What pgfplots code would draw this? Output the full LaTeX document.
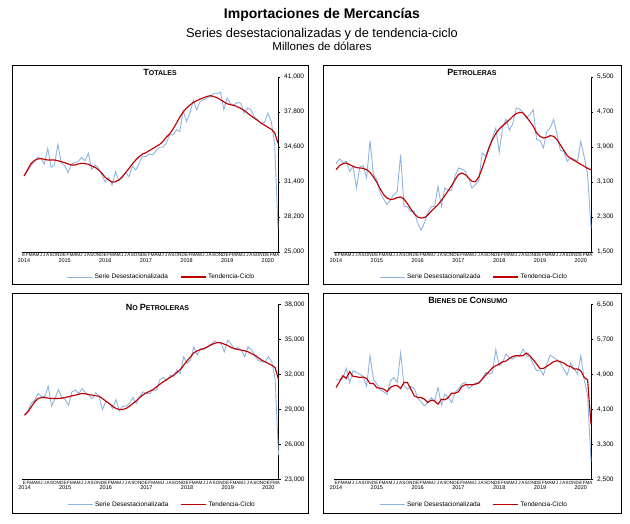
\documentclass[border=0pt]{standalone}
\usepackage{pgfplots}
\pgfplotsset{compat=1.18}
\usepackage{pgfplotstable}
\usepackage{fontspec}
\setmainfont{Liberation Sans}
\definecolor{sablue}{RGB}{141,180,226}
\definecolor{tcred}{RGB}{192,0,0}

\pgfplotstableread{
m sa tc
0 31950 31950
1 32400 32500
2 32860 33050
3 33260 33350
4 33650 33500
5 33560 33540
6 33050 33470
7 34480 33410
8 32740 33410
9 33000 33410
10 34850 33350
11 33150 33260
12 32900 33170
13 32250 33050
14 33050 32950
15 33170 32950
16 33260 33050
17 33660 33110
18 33350 33080
19 34020 33020
20 32560 32860
21 32950 32740
22 32650 32500
23 32040 32190
24 31390 31820
25 31820 31580
26 31120 31390
27 32340 31420
28 31510 31580
29 31820 31880
30 32250 32250
31 31880 32650
32 32860 33050
33 32500 33410
34 33110 33720
35 33780 33960
36 33720 34080
37 33960 34270
38 33870 34450
39 34270 34640
40 34580 34820
41 34580 35100
42 34940 35490
43 35710 35800
44 35710 36230
45 36170 36780
46 36010 37330
47 37940 37790
48 36930 38160
49 37700 38430
50 38860 38670
51 38000 38830
52 38770 38980
53 38920 39100
54 39070 39220
55 39220 39290
56 39470 39220
57 39470 39100
58 39620 38920
59 38000 38730
60 39070 38550
61 38550 38460
62 38460 38400
63 38670 38280
64 38610 38130
65 37700 37940
66 38160 37700
67 38000 37450
68 37330 37240
69 37080 37020
70 36780 36780
71 36840 36600
72 37700 36410
73 36930 36230
74 34940 35920
75 27140 34940
}\totales

\pgfplotstableread{
m sa tc
0 3519 3382
1 3626 3473
2 3550 3519
3 3572 3534
4 3344 3496
5 3458 3458
6 2963 3428
7 3443 3420
8 3473 3412
9 3191 3382
10 4045 3321
11 3268 3214
12 3153 3092
13 2849 2940
14 2711 2810
15 2582 2734
16 2696 2696
17 2810 2711
18 2887 2742
19 3725 2757
20 2544 2711
21 2529 2605
22 2430 2483
23 2430 2376
24 2163 2300
25 1995 2277
26 2163 2285
27 2392 2346
28 2544 2430
29 2544 2506
30 3001 2582
31 2544 2681
32 2963 2788
33 2910 2902
34 2910 3016
35 3230 3153
36 3420 3268
37 3397 3306
38 3344 3268
39 3191 3191
40 2963 3115
41 3039 3108
42 3138 3214
43 3763 3420
44 3687 3649
45 3915 3877
46 4106 4068
47 4334 4205
48 3778 4311
49 4334 4388
50 4540 4449
51 4281 4525
52 4433 4601
53 4791 4662
54 4768 4692
55 4692 4677
56 4563 4586
57 4639 4487
58 4753 4372
59 4068 4220
60 4052 4144
61 3877 4106
62 4258 4121
63 4334 4159
64 4525 4144
65 4182 4068
66 3824 3946
67 3801 3824
68 3572 3702
69 3649 3641
70 3626 3595
71 3572 3550
72 4030 3504
73 3672 3458
74 3268 3412
75 2049 3382
}\petroleras

\pgfplotstableread{
m sa tc
0 28514 28514
1 28886 28800
2 29514 29229
3 29800 29657
4 30371 29943
5 30143 30029
6 30086 30029
7 31000 29971
8 29286 29943
9 29943 29943
10 30714 29943
11 30029 29971
12 29857 30029
13 29371 30086
14 30514 30171
15 30657 30229
16 30371 30314
17 30800 30371
18 30429 30343
19 30229 30286
20 29943 30229
21 30429 30171
22 30086 30143
23 29000 29943
24 29657 29714
25 29514 29514
26 29086 29286
27 29857 29086
28 28886 29000
29 29286 29000
30 29286 29086
31 29514 29286
32 30029 29514
33 29514 29743
34 30086 30029
35 30514 30257
36 30371 30429
37 30371 30571
38 30657 30714
39 30657 30943
40 31571 31171
41 31743 31371
42 31457 31571
43 31943 31743
44 31800 31943
45 32371 32171
46 32086 32429
47 33514 32800
48 32943 33171
49 33229 33514
50 34371 33857
51 33657 34029
52 34229 34143
53 34143 34229
54 34371 34371
55 34514 34543
56 34886 34657
57 34714 34743
58 34714 34714
59 33943 34600
60 34943 34486
61 34600 34314
62 34143 34229
63 34314 34143
64 34086 34086
65 33514 34029
66 34371 33943
67 34143 33800
68 33571 33657
69 33229 33457
70 33086 33229
71 33086 33086
72 33514 32943
73 33086 32800
74 31657 32600
75 25086 31571
}\nopetroleras

\pgfplotstableread{
m sa tc
0 4779 4603
1 4779 4733
2 4810 4871
3 5039 4810
4 4718 4963
5 4986 4856
6 4947 4848
7 4909 4833
8 4856 4840
9 4626 4810
10 5330 4695
11 4794 4695
12 4680 4596
13 4550 4588
14 4504 4565
15 4450 4511
16 4756 4603
17 4833 4642
18 4718 4649
19 5391 4580
20 4642 4718
21 4565 4718
22 4626 4565
23 4580 4412
24 4374 4374
25 4274 4374
26 4183 4335
27 4259 4259
28 4374 4313
29 4297 4297
30 4603 4221
31 4198 4335
32 4450 4320
33 4374 4374
34 4259 4473
35 4488 4473
36 4565 4504
37 4680 4626
38 4718 4664
39 4580 4664
40 4642 4664
41 4703 4680
42 4718 4703
43 4794 4794
44 4947 4886
45 4909 4963
46 4932 5054
47 5467 5100
48 5100 5139
49 5177 5192
50 5368 5207
51 5292 5269
52 5253 5314
53 5330 5330
54 5314 5330
55 5483 5330
56 5330 5391
57 5292 5330
58 5139 5238
59 4986 5139
60 5009 5039
61 4886 5039
62 5139 5085
63 5345 5139
64 5292 5192
65 5238 5215
66 5162 5192
67 5024 5162
68 4886 5100
69 5162 5085
70 5039 5024
71 4909 5024
72 5330 4986
73 4794 4833
74 4412 4779
75 2921 3762
}\bienes

\pgfplotsset{
  panel/.style={
    scale only axis,
    width=256pt, height=175pt,
    xmin=-0.6, xmax=75,
    axis x line*=bottom, axis y line*=right,
    axis line style={black, line width=0.8pt},
    clip=false,
    scaled y ticks=false,
    /pgf/number format/.cd, fixed, 1000 sep={,}, assume math mode=true, /pgfplots/.cd,
    tick align=outside,
    major tick length=2.2pt,
    tick style={black, line width=0.6pt},
    yticklabel style={font=\fontsize{6.5}{7}\selectfont, anchor=west, xshift=0.5pt},
    xtick={0,...,75},
    xticklabels={E,F,M,A,M,J,J,A,S,O,N,D,E,F,M,A,M,J,J,A,S,O,N,D,E,F,M,A,M,J,J,A,S,O,N,D,E,F,M,A,M,J,J,A,S,O,N,D,E,F,M,A,M,J,J,A,S,O,N,D,E,F,M,A,M,J,J,A,S,O,N,D,E,F,M,A},
    xticklabel style={font=\fontsize{4.6}{4.6}\selectfont, inner sep=0.2pt, yshift=1.2pt},
    xtick style={draw=none},
    extra x ticks={0,12,24,36,48,60,72},
    extra x tick labels={2014,2015,2016,2017,2018,2019,2020},
    extra x tick style={xtick style={draw=none}, xticklabel style={font=\fontsize{5.5}{6}\selectfont, yshift=-5pt}},
    legend style={at={(0.545,-0.143)}, anchor=center, draw=none, fill=none,
      legend columns=2, font=\fontsize{6.5}{7}\selectfont,
      /tikz/every even column/.append style={column sep=10pt}},
    legend image code/.code={\draw[##1] (0pt,0pt) -- (25pt,0pt);},
  },
  sastyle/.style={sablue, line width=0.9pt, no markers},
  tcstyle/.style={tcred, line width=1.15pt, no markers},
}

\begin{document}
\begin{tikzpicture}[x=1pt,y=1pt]
\path[use as bounding box] (0,0) rectangle (630,524);

\node[anchor=base, font=\bfseries\fontsize{14}{16}\selectfont] at (322,505.7) {Importaciones de Mercancías};
\node[anchor=base, font=\fontsize{12.8}{14}\selectfont] at (322,486.7) {Series desestacionalizadas y de tendencia-ciclo};
\node[anchor=base, font=\fontsize{11.5}{13}\selectfont] at (322,473.5) {Millones de dólares};

\draw[line width=0.8pt] (12,459) rectangle (308,240);
\draw[line width=0.8pt] (323,459) rectangle (621,240);
\draw[line width=0.8pt] (12,231) rectangle (308,11);
\draw[line width=0.8pt] (323,231) rectangle (621,11);

\node[anchor=base, font=\bfseries] at (160,448) {\fontsize{9}{9}\selectfont T\fontsize{7}{7}\selectfont OTALES};
\node[anchor=base, font=\bfseries] at (472,448) {\fontsize{9}{9}\selectfont P\fontsize{7}{7}\selectfont ETROLERAS};
\node[anchor=base, font=\bfseries] at (157.5,213.3) {\fontsize{9}{9}\selectfont N\fontsize{7}{7}\selectfont O \fontsize{9}{9}\selectfont P\fontsize{7}{7}\selectfont ETROLERAS};
\node[anchor=base, font=\bfseries] at (468,220) {\fontsize{9}{9}\selectfont B\fontsize{7}{7}\selectfont IENES DE \fontsize{9}{9}\selectfont C\fontsize{7}{7}\selectfont ONSUMO};

\begin{axis}[panel, at={(22pt,272pt)}, anchor=south west,
  ymin=25000, ymax=41000, ytick={25000,28200,31400,34600,37800,41000}]
\addplot[sastyle] table[x=m, y=sa] {\totales};
\addlegendentry{Serie Desestacionalizada}
\addplot[tcstyle] table[x=m, y=tc] {\totales};
\addlegendentry{Tendencia-Ciclo}
\end{axis}

\begin{axis}[panel, width=257pt, at={(334pt,272pt)}, anchor=south west,
  ymin=1500, ymax=5500, ytick={1500,2300,3100,3900,4700,5500}]
\addplot[sastyle] table[x=m, y=sa] {\petroleras};
\addlegendentry{Serie Desestacionalizada}
\addplot[tcstyle] table[x=m, y=tc] {\petroleras};
\addlegendentry{Tendencia-Ciclo}
\end{axis}

\begin{axis}[panel, at={(22.5pt,44.5pt)}, anchor=south west,
  ymin=23000, ymax=38000, ytick={23000,26000,29000,32000,35000,38000}]
\addplot[sastyle] table[x=m, y=sa] {\nopetroleras};
\addlegendentry{Serie Desestacionalizada}
\addplot[tcstyle] table[x=m, y=tc] {\nopetroleras};
\addlegendentry{Tendencia-Ciclo}
\end{axis}

\begin{axis}[panel, width=257pt, at={(334pt,44.5pt)}, anchor=south west,
  ymin=2500, ymax=6500, ytick={2500,3300,4100,4900,5700,6500}]
\addplot[sastyle] table[x=m, y=sa] {\bienes};
\addlegendentry{Serie Desestacionalizada}
\addplot[tcstyle] table[x=m, y=tc] {\bienes};
\addlegendentry{Tendencia-Ciclo}
\end{axis}
\end{tikzpicture}
\end{document}
